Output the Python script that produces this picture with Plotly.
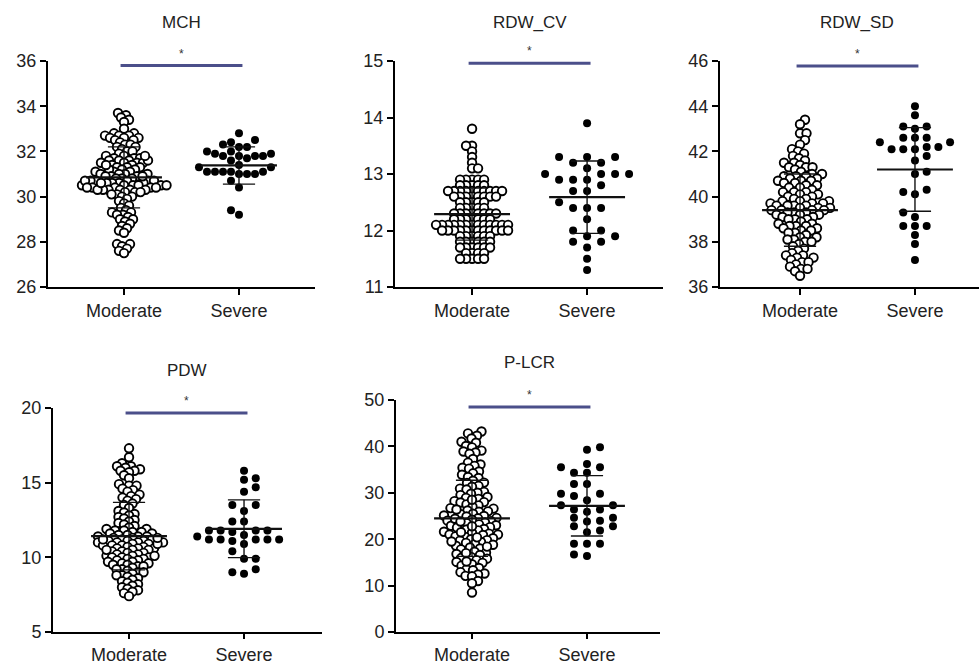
import plotly.graph_objects as go

categories = ["Moderate", "Severe"]
panel_titles = ["MCH", "RDW_CV", "RDW_SD", "PDW", "P-LCR"]

mch_moderate = [33.7, 33.6, 33.5, 33.4, 33.3, 33.0,
    32.8, 32.8, 32.7, 32.7, 32.7, 32.6, 32.6, 32.6, 32.5, 32.5, 32.4, 32.3, 32.3, 32.2, 32.2, 32.1, 32.0, 32.0, 31.9,
    31.8, 31.8, 31.7, 31.7, 31.7, 31.6, 31.6, 31.6, 31.5, 31.5, 31.5, 31.5, 31.4, 31.4, 31.3, 31.3, 31.3, 31.2, 31.2,
    31.1, 31.1, 31.1, 31.0, 31.0, 31.0, 31.0, 31.2, 31.4, 31.6, 31.8,
    30.9, 30.9, 30.9, 30.8, 30.8, 30.8, 30.7, 30.7, 30.7, 30.7, 30.7, 30.6, 30.6, 30.6, 30.6, 30.5, 30.5, 30.5, 30.5,
    30.5, 30.4, 30.4, 30.4, 30.4, 30.3, 30.3, 30.3, 30.3, 30.3, 30.2, 30.2, 30.2, 30.1, 30.1, 30.0, 30.0, 30.7, 30.5,
    30.3, 30.6, 30.9, 30.4,
    29.9, 29.8, 29.7, 29.6, 29.5, 29.4, 29.3, 29.3, 29.2, 29.2, 29.1, 29.0, 29.0, 28.9, 28.8, 28.7, 28.6, 28.5, 28.4,
    27.9, 27.9, 27.8, 27.7, 27.6, 27.5]
mch_severe = [32.8, 32.5, 32.4, 32.2, 32.2, 32.3, 32.0, 32.0, 31.8, 31.8, 31.8, 31.9, 31.9, 31.8, 31.7, 31.6,
    31.3, 31.3, 31.4, 31.1, 31.1, 31.1, 31.0, 31.1, 31.0, 31.1, 31.0, 30.7, 30.4, 29.4, 29.2]

rdwcv_moderate = [13.8, 13.5, 13.5, 13.4, 13.3, 13.2, 13.1, 13.1,
    12.9, 12.9, 12.9, 12.9, 12.9, 12.8, 12.8, 12.8, 12.8, 12.8,
    12.7, 12.7, 12.7, 12.7, 12.7, 12.7, 12.7, 12.7, 12.7, 12.7,
    12.6, 12.6, 12.6, 12.6, 12.6, 12.6, 12.6, 12.6,
    12.5, 12.5, 12.5, 12.5, 12.5, 12.4, 12.4, 12.4, 12.4, 12.4,
    12.3, 12.3, 12.3, 12.3, 12.3, 12.3, 12.3, 12.3,
    12.2, 12.2, 12.2, 12.2, 12.2, 12.2, 12.2,
    12.1, 12.1, 12.1, 12.1, 12.1, 12.1, 12.1, 12.1, 12.1, 12.1, 12.1, 12.1, 12.1,
    12.0, 12.0, 12.0, 12.0, 12.0, 12.0, 12.0, 12.0, 12.0, 12.0, 12.0, 12.0,
    11.9, 11.9, 11.9, 11.9, 11.9, 11.9, 11.8, 11.8, 11.8, 11.8, 11.8, 11.8,
    11.7, 11.7, 11.7, 11.7, 11.7, 11.7, 11.6, 11.6, 11.6, 11.6, 11.5, 11.5, 11.5, 11.5, 11.5]
rdwcv_severe = [13.9, 13.3, 13.3, 13.3, 13.2, 13.2, 13.1, 13.0, 13.0, 13.0, 13.0, 12.9, 12.9, 12.9, 12.8,
    12.7, 12.7, 12.5, 12.4, 12.4, 12.4, 12.2, 12.0, 12.0, 11.9, 11.9, 11.8, 11.8, 11.7, 11.5, 11.3]

rdwsd_moderate = [43.4, 43.2, 42.8, 42.8, 42.5, 42.3, 42.1, 42.0, 41.9, 41.8, 41.7, 41.6, 41.5, 41.5, 41.4,
    41.3, 41.3, 41.3, 41.2, 41.1, 41.0, 41.0, 40.9, 40.9, 40.9, 40.8, 40.8, 40.7, 40.7, 40.7, 40.6, 40.6, 40.5,
    40.5, 40.4, 40.4, 40.3, 40.2, 40.2, 40.2, 40.1, 40.1, 40.0, 40.0,
    39.9, 39.9, 39.8, 39.8, 39.8, 39.7, 39.7, 39.7, 39.6, 39.6, 39.6, 39.6, 39.5, 39.5, 39.5, 39.4, 39.4, 39.4,
    39.4, 39.3, 39.3, 39.3, 39.2, 39.2, 39.2, 39.1, 39.1, 39.0, 39.0, 39.0,
    38.9, 38.8, 38.8, 38.7, 38.7, 38.7, 38.6, 38.6, 38.5, 38.5, 38.4, 38.4, 38.3, 38.2, 38.2, 38.1, 38.1, 38.0,
    38.0, 37.9, 37.8, 37.7, 37.6, 37.5,
    37.4, 37.4, 37.3, 37.3, 37.2, 37.1, 37.1, 37.0, 36.9, 36.8, 36.8, 36.7, 36.5]
rdwsd_severe = [44.0, 43.6, 43.1, 43.0, 43.1, 42.6, 42.6, 42.6, 42.4, 42.4, 42.1, 42.1, 42.2, 42.1, 42.2,
    41.8, 41.6, 41.0, 41.1, 40.2, 40.3, 40.1, 39.3, 39.1, 38.7, 38.7, 38.7, 38.3, 37.9, 37.2]

pdw_moderate = [17.3, 16.7, 16.3, 16.1, 16.1, 16.0, 15.9, 15.8, 15.8, 15.7, 15.5, 15.3, 14.9, 14.8, 14.8, 14.6,
    14.5, 14.4, 14.2, 14.1, 14.0, 13.9, 13.8, 13.6, 13.5, 13.3, 13.1, 13.0, 12.9, 12.8, 12.7, 12.6, 12.5, 12.4,
    12.3, 12.2, 12.1, 12.0, 11.9, 11.9, 11.8, 11.8, 11.7, 11.7, 11.6, 11.6, 11.5, 11.5, 11.4, 11.4, 11.4, 11.3,
    11.3, 11.2, 11.2, 11.1, 11.1, 11.1, 11.0, 11.0, 11.0, 10.9, 10.9, 10.8, 10.8, 10.8, 10.7, 10.7, 10.6, 10.6,
    10.6, 10.5, 10.5, 10.4, 10.4, 10.3, 10.3, 10.2, 10.2, 10.1, 10.1, 10.0, 10.0, 10.0, 9.9, 9.9, 9.8, 9.8, 9.7,
    9.7, 9.6, 9.6, 9.5, 9.5, 9.4, 9.4, 9.3, 9.2, 9.2, 9.1, 9.0, 9.0, 8.9, 8.8, 8.8, 8.7, 8.6, 8.5, 8.4, 8.3,
    8.2, 8.1, 8.0, 7.9, 7.8, 7.7, 7.6, 7.4, 11.0, 11.2, 10.9, 11.3, 10.5, 10.1]
pdw_severe = [15.8, 15.3, 15.2, 14.7, 14.4, 13.5, 13.5, 13.1, 12.4, 12.4, 11.8, 11.8, 11.8, 11.8, 11.7, 11.5,
    11.4, 11.2, 11.2, 11.2, 11.2, 11.2, 11.1, 10.9, 10.4, 9.9, 9.9, 9.2, 9.0, 8.9]

plcr_moderate = [43.2, 42.8, 42.3, 41.7, 41.0, 40.8, 40.1, 39.8, 39.1, 38.9, 38.7, 38.4, 37.3, 36.5, 36.1, 35.8,
    35.4, 35.2, 34.6, 34.2, 33.9, 33.4, 33.2, 32.6, 32.2, 32.1, 31.5, 31.3, 30.9, 30.7, 30.2, 30.0, 29.8, 29.5,
    29.1, 28.9, 28.7, 28.2, 28.0, 27.9, 27.5, 27.3, 27.0, 26.7, 26.6, 26.2, 26.0, 25.9, 25.5, 25.4, 25.1, 25.0,
    24.9, 24.6, 24.5, 24.2, 24.0, 23.9, 23.6, 23.5, 23.2, 23.0, 22.9, 22.6, 22.5, 22.2, 22.1, 21.9, 21.6, 21.4,
    21.2, 21.0, 21.0, 20.9, 20.6, 20.5, 20.2, 20.0, 19.8, 19.7, 19.4, 19.2, 19.0, 18.8, 18.6, 18.2, 18.0, 17.8,
    17.3, 17.1, 16.8, 16.6, 16.2, 16.0, 15.8, 15.5, 15.1, 14.9, 14.6, 14.3, 13.8, 13.5, 13.3, 12.9, 12.6, 12.4,
    12.1, 12.0, 11.0, 10.5, 8.5, 24.4, 23.8, 22.8, 21.5, 20.4, 19.5, 26.4, 28.5, 18.4, 17.0, 15.2]
plcr_severe = [39.8, 39.3, 36.2, 35.5, 35.5, 34.3, 34.3, 31.9, 31.9, 29.8, 29.8, 29.3, 28.4, 27.3, 27.3, 26.4,
    26.4, 25.9, 24.6, 24.6, 24.0, 23.8, 22.8, 22.8, 21.9, 21.5, 19.0, 19.0, 19.0, 16.4, 16.7]

moderate_data = [mch_moderate, rdwcv_moderate, rdwsd_moderate, pdw_moderate, plcr_moderate]
severe_data = [mch_severe, rdwcv_severe, rdwsd_severe, pdw_severe, plcr_severe]

# mean and SD bounds
mean_moderate = [30.85, 12.29, 39.4, 11.42, 24.5]
sd_lo_moderate = [29.5, 11.83, 37.8, 9.16, 16.3]
sd_hi_moderate = [32.2, 12.75, 41.0, 13.68, 32.7]
mean_severe = [31.38, 12.59, 41.2, 11.9, 27.2]
sd_lo_severe = [30.55, 11.95, 39.35, 9.98, 20.7]
sd_hi_severe = [32.2, 13.23, 43.05, 13.85, 33.7]

y_ranges = [(26, 36), (11, 15), (36, 46), (5, 20), (0, 50)]
y_ticks = [[26, 28, 30, 32, 34, 36], [11, 12, 13, 14, 15], [36, 38, 40, 42, 44, 46], [5, 10, 15, 20],
           [0, 10, 20, 30, 40, 50]]
sig_levels = [35.8, 14.96, 45.78, 19.67, 48.5]
sig_labels = ["*", "*", "*", "*", "*"]

W, H = 979, 664
# plot areas in pixels: (left, right, top, bottom)
areas = [(48, 315, 61, 287), (395, 663, 61, 287), (720, 979, 61, 287), (53, 322, 408, 632), (396, 660, 400, 632)]
x_ranges = [(-0.661, 1.661), (-0.67, 1.66), (-0.696, 1.557), (-0.661, 1.678), (-0.661, 1.635)]
mod_diam = [5.4, 5.6, 6.4, 5.5, 6.1]
# column layout of the filled dots: (column pitch px, min vertical gap px)
sev_layout = [(8.0, 8.0), (14.0, 8.0), (11.7, 8.0), (11.7, 8.0), (13.0, 8.0)]


def swarm_free(vals, ppu_y, ppu_x, diam):
    order = sorted(range(len(vals)), key=lambda i: vals[i])
    placed = []
    offs = [0.0] * len(vals)
    cands = [0.0]
    for k in range(1, 200):
        cands += [k * 0.5, -k * 0.5]
    for n, i in enumerate(order):
        y = vals[i] * ppu_y
        near = [(px, py) for (px, py) in placed if abs(py - y) < diam]
        cs = cands if n % 2 == 0 else [-c for c in cands]
        for c in cs:
            if all((c - px) ** 2 + (y - py) ** 2 >= diam * diam for px, py in near):
                offs[i] = c / ppu_x
                placed.append((c, y))
                break
    return offs


def swarm_cols(vals, ppu_y, ppu_x, pitch, vmin):
    order = sorted(range(len(vals)), key=lambda i: vals[i])
    cols = {}
    offs = [0.0] * len(vals)
    for n, i in enumerate(order):
        y = vals[i] * ppu_y
        sign = 1 if n % 2 == 0 else -1
        seq = [0]
        for k in range(1, 40):
            seq += [sign * k, -sign * k]
        for c in seq:
            if all(abs(y - yy) >= vmin for yy in cols.get(c, [])):
                cols.setdefault(c, []).append(y)
                offs[i] = c * pitch / ppu_x
                break
    return offs


fig = go.Figure()
line_col = "#111111"
sig_col = "#4b4f8a"
font_fam = "Liberation Sans, Arial, sans-serif"

for p in range(5):
    l, r, t, b = areas[p]
    xa = "x" if p == 0 else f"x{p+1}"
    ya = "y" if p == 0 else f"y{p+1}"
    xr = x_ranges[p]
    yr = y_ranges[p]
    ppu_x = (r - l) / (xr[1] - xr[0])
    ppu_y = (b - t) / (yr[1] - yr[0])

    mod = moderate_data[p]
    sev = severe_data[p]
    mo = swarm_free(mod, ppu_y, ppu_x, mod_diam[p])
    so = swarm_cols(sev, ppu_y, ppu_x, *sev_layout[p])

    fig.add_trace(go.Scatter(x=[0 + o for o in mo], y=mod, mode="markers", xaxis=xa, yaxis=ya,
                             marker=dict(size=8.5, color="white", line=dict(color="black", width=1.9)),
                             showlegend=False, hoverinfo="y"))
    fig.add_trace(go.Scatter(x=[1 + o for o in so], y=sev, mode="markers", xaxis=xa, yaxis=ya,
                             marker=dict(size=8, color="black", line=dict(width=0)),
                             showlegend=False, hoverinfo="y"))

    for gx, m, lo, hi in [(0, mean_moderate[p], sd_lo_moderate[p], sd_hi_moderate[p]),
                          (1, mean_severe[p], sd_lo_severe[p], sd_hi_severe[p])]:
        fig.add_trace(go.Scatter(x=[gx - 0.33, gx + 0.33], y=[m, m], mode="lines", xaxis=xa, yaxis=ya,
                                 line=dict(color=line_col, width=2.2), showlegend=False, hoverinfo="skip"))
        fig.add_trace(go.Scatter(x=[gx - 0.14, gx + 0.14, None, gx, gx, None, gx - 0.14, gx + 0.14],
                                 y=[lo, lo, None, lo, hi, None, hi, hi], mode="lines", xaxis=xa, yaxis=ya,
                                 line=dict(color=line_col, width=1.4), showlegend=False, hoverinfo="skip"))

    fig.add_trace(go.Scatter(x=[-0.03, 1.03], y=[sig_levels[p]] * 2, mode="lines", xaxis=xa, yaxis=ya,
                             line=dict(color=sig_col, width=3), showlegend=False, hoverinfo="skip",
                             cliponaxis=False))
    fig.add_annotation(x=0.5, y=sig_levels[p], xref=xa, yref=ya, text=sig_labels[p], showarrow=False,
                       yanchor="bottom", yshift=3, font=dict(family=font_fam, size=12, color="#333333"))
    fig.add_annotation(x=0.5, y=1 - (t - 38) / H, xref=xa, yref="paper", text=panel_titles[p],
                       showarrow=False, yanchor="middle", font=dict(family=font_fam, size=17, color="#222222"))

    axis_common = dict(showgrid=False, zeroline=False, showline=True, linecolor="black", linewidth=2,
                       ticks="outside", tickwidth=2, tickcolor="black", automargin=False,
                       tickfont=dict(family=font_fam, size=18, color="#222222"))
    xkey = "xaxis" if p == 0 else f"xaxis{p+1}"
    ykey = "yaxis" if p == 0 else f"yaxis{p+1}"
    fig.update_layout(**{
        xkey: dict(domain=[l / W, r / W], range=list(xr), anchor=ya, tickvals=[0, 1], ticktext=categories,
                   ticklen=6 if p < 3 else 5, fixedrange=True, **axis_common),
        ykey: dict(domain=[1 - b / H, 1 - t / H], range=list(yr), anchor=xa, tickvals=y_ticks[p],
                   ticklen=6, fixedrange=True, **axis_common),
    })

fig.update_layout(width=W, height=H, margin=dict(l=0, r=0, t=0, b=0, autoexpand=False), plot_bgcolor="white",
                  paper_bgcolor="white", font=dict(family=font_fam))
fig.write_html("out.html", config={"displayModeBar": False},
               post_script="document.body.style.margin='0px';document.body.style.overflow='hidden';")
